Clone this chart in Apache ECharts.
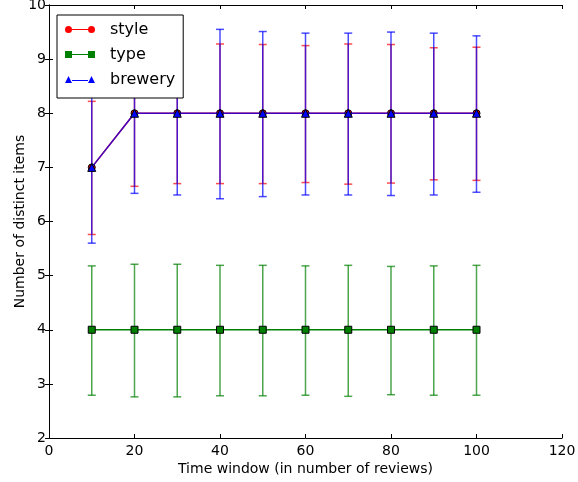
<!DOCTYPE html>
<html>
<head>
<meta charset="utf-8">
<script src="https://cdn.jsdelivr.net/npm/echarts@6/dist/echarts.min.js"></script>
<style>
  html, body { margin: 0; padding: 0; background: #fff; }
  #container { width: 578px; height: 482px; }
</style>
</head>
<body>
<div id="container"></div>
<script>
// time windows (x)
var windows = [10, 20, 30, 40, 50, 60, 70, 80, 90, 100];

// style
var styleMean = [7, 8, 8, 8, 8, 8, 8, 8, 8, 8];
var styleLow = [5.76, 6.65, 6.70, 6.70, 6.70, 6.72, 6.69, 6.71, 6.77, 6.76];
var styleHigh = [8.22, 9.35, 9.30, 9.28, 9.27, 9.25, 9.28, 9.27, 9.21, 9.22];

// type
var typeMean = [4, 4, 4, 4, 4, 4, 4, 4, 4, 4];
var typeLow = [2.79, 2.76, 2.76, 2.78, 2.78, 2.79, 2.77, 2.80, 2.79, 2.79];
var typeHigh = [5.18, 5.21, 5.21, 5.19, 5.19, 5.18, 5.19, 5.17, 5.18, 5.19];

// brewery
var breweryMean = [7, 8, 8, 8, 8, 8, 8, 8, 8, 8];
var breweryLow = [5.60, 6.52, 6.49, 6.42, 6.46, 6.49, 6.49, 6.48, 6.49, 6.54];
var breweryHigh = [8.40, 9.48, 9.51, 9.55, 9.51, 9.48, 9.48, 9.50, 9.48, 9.43];

var xTicks = { min: 0, max: 120, interval: 20 };
var yTicks = { min: 2, max: 10, interval: 1 };

var FONT = 'DejaVu Sans';

function pairs(xs, ys) {
    var out = [];
    for (var i = 0; i < xs.length; i++) {
        out.push([xs[i], ys[i]]);
    }
    return out;
}

function errorSeries(name, low, high, color, z) {
    var data = [];
    for (var i = 0; i < windows.length; i++) {
        data.push([windows[i], low[i], high[i]]);
    }
    return {
        name: name,
        type: 'custom',
        z: z,
        data: data,
        encode: { x: 0, y: [1, 2] },
        renderItem: function (params, api) {
            var x = api.value(0);
            var lo = api.coord([x, api.value(1)]);
            var hi = api.coord([x, api.value(2)]);
            var st = { stroke: color, lineWidth: 1.5, opacity: 0.7 };
            return {
                type: 'group',
                children: [
                    { type: 'line', shape: { x1: lo[0], y1: lo[1], x2: hi[0], y2: hi[1] }, style: st },
                    { type: 'line', shape: { x1: lo[0] - 4, y1: lo[1], x2: lo[0] + 4, y2: lo[1] }, style: st },
                    { type: 'line', shape: { x1: hi[0] - 4, y1: hi[1], x2: hi[0] + 4, y2: hi[1] }, style: st }
                ]
            };
        }
    };
}

function meanSeries(name, mean, color, symbol, size, opacity, z) {
    return {
        name: name,
        type: 'line',
        z: z,
        data: pairs(windows, mean),
        symbol: symbol,
        symbolSize: size,
        showAllSymbol: true,
        lineStyle: { color: color, width: 1.5, opacity: opacity },
        itemStyle: { color: color, borderColor: '#000', borderWidth: 1, opacity: 1 }
    };
}

var circleIcon = 'path://M0,3.5 A3.5,3.5 0 1 1 7,3.5 A3.5,3.5 0 1 1 0,3.5 Z M7,3 L23,3 L23,4 L7,4 Z M23,3.5 A3.5,3.5 0 1 1 30,3.5 A3.5,3.5 0 1 1 23,3.5 Z';
var squareIcon = 'path://M0,0 L7,0 L7,7 L0,7 Z M7,3 L23,3 L23,4 L7,4 Z M23,0 L30,0 L30,7 L23,7 Z';
var triangleIcon = 'path://M3.5,0 L7,7 L0,7 Z M7,4 L23,4 L23,5 L7,5 Z M26.5,0 L30,7 L23,7 Z';

var axisLine = { show: true, lineStyle: { color: '#000', width: 1 } };
var axisTick = { show: true, inside: true, length: 4, lineStyle: { color: '#000' } };

var option = {
    animation: false,
    backgroundColor: '#fff',
    grid: { left: 49, right: 16, top: 5, bottom: 44, outerBoundsMode: 'none', containLabel: false },
    legend: {
        left: 57,
        top: 15,
        orient: 'vertical',
        z: 20,
        backgroundColor: '#fff',
        borderColor: '#000',
        borderWidth: 1,
        borderRadius: 0,
        padding: [5, 8, 9, 8],
        itemWidth: 30,
        itemHeight: 7,
        itemGap: 6,
        itemStyle: { borderWidth: 0 },
        textStyle: { fontFamily: FONT, fontSize: 16, color: '#000', lineHeight: 19, padding: [0, 0, 0, 10] },
        data: [
            { name: 'style', icon: circleIcon },
            { name: 'type', icon: squareIcon },
            { name: 'brewery', icon: triangleIcon }
        ]
    },
    xAxis: [{
        type: 'value',
        position: 'bottom',
        min: xTicks.min, max: xTicks.max, interval: xTicks.interval,
        axisLine: axisLine,
        axisTick: axisTick,
        splitLine: { show: false },
        axisLabel: { fontFamily: FONT, fontSize: 14, color: '#000', margin: 6 },
        name: 'Time window (in number of reviews)',
        nameLocation: 'middle',
        nameGap: 24,
        nameMoveOverlap: false,
        nameTextStyle: { fontFamily: FONT, fontSize: 14, color: '#000' }
    }, {
        type: 'value',
        position: 'top',
        min: xTicks.min, max: xTicks.max, interval: xTicks.interval,
        axisLine: axisLine,
        axisTick: axisTick,
        splitLine: { show: false },
        axisLabel: { show: false }
    }],
    yAxis: [{
        type: 'value',
        position: 'left',
        min: yTicks.min, max: yTicks.max, interval: yTicks.interval,
        axisLine: axisLine,
        axisTick: axisTick,
        splitLine: { show: false },
        axisLabel: { fontFamily: FONT, fontSize: 14, color: '#000', margin: 3 },
        name: 'Number of distinct items',
        nameLocation: 'middle',
        nameGap: 22,
        nameMoveOverlap: false,
        nameTextStyle: { fontFamily: FONT, fontSize: 14, color: '#000' }
    }, {
        type: 'value',
        position: 'right',
        min: yTicks.min, max: yTicks.max, interval: yTicks.interval,
        axisLine: axisLine,
        axisTick: axisTick,
        splitLine: { show: false },
        axisLabel: { show: false }
    }],
    series: [
        errorSeries('style-err', styleLow, styleHigh, '#ff0000', 2),
        meanSeries('style', styleMean, '#ff0000', 'circle', 7, 1, 3),
        errorSeries('type-err', typeLow, typeHigh, '#008000', 4),
        meanSeries('type', typeMean, '#008000', 'rect', 7, 1, 5),
        errorSeries('brewery-err', breweryLow, breweryHigh, '#0000ff', 6),
        meanSeries('brewery', breweryMean, '#0000ff', 'triangle', 8, 0.75, 7)
    ]
};

var myChart = echarts.init(document.getElementById('container'));
myChart.setOption(option);
</script>
</body>
</html>
